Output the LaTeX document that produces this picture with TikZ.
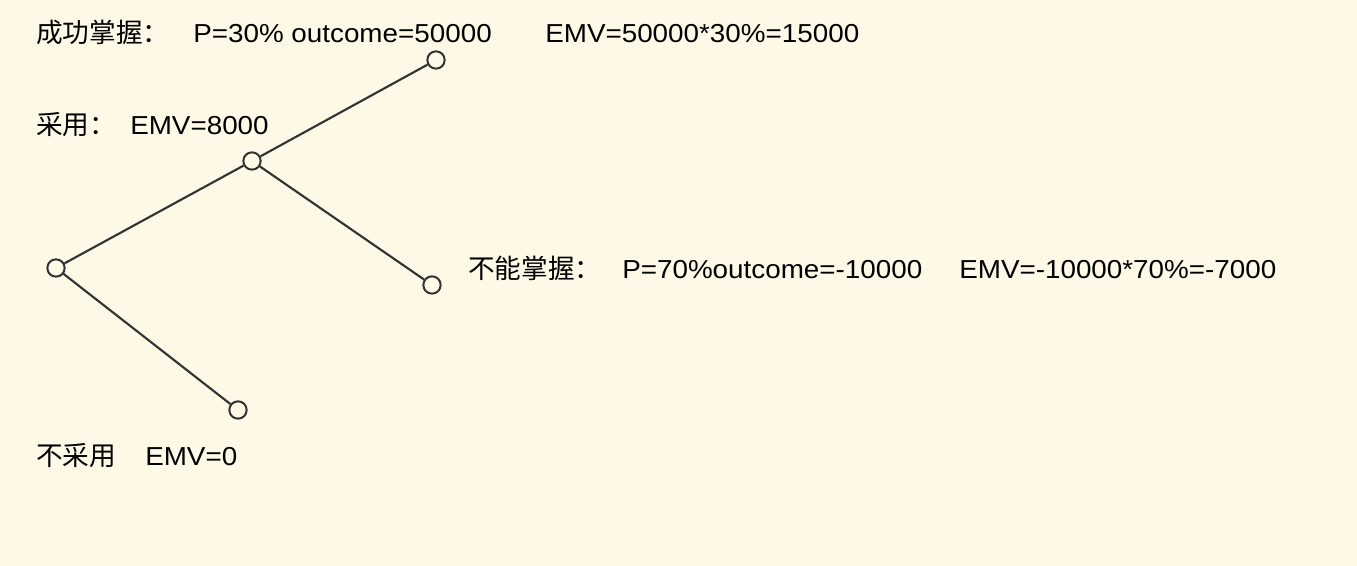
\documentclass[tikz,border=0pt]{standalone}
\usepackage{fontspec}
\setmainfont{Liberation Sans}
\newfontfamily\cjk{Noto Sans CJK SC}
\usepackage{graphicx}
\definecolor{bgc}{HTML}{FEF9E7}
\definecolor{linec}{HTML}{333333}
\newcommand{\Lt}[1]{\scalebox{1.07}[1]{#1}}
\begin{document}
\begin{tikzpicture}[x=0.75pt,y=-0.75pt,
  dnode/.style={circle,draw=linec,line width=1.5pt,fill=bgc,minimum size=13pt,inner sep=0pt},
  branch/.style={draw=linec,line width=1.6pt},
  lbl/.style={anchor=base west,inner sep=0pt,font=\fontsize{19.5pt}{22pt}\selectfont},
  clbl/.style={anchor=base west,inner sep=0pt,font=\fontsize{20pt}{22pt}\cjk}]
\fill[bgc] (0,0) rectangle (1357,566);
\useasboundingbox (0,0) rectangle (1357,566);
% tree nodes
\node[dnode] (root) at (56,268) {};
\node[dnode] (mid) at (252,161) {};
\node[dnode] (top) at (436,60) {};
\node[dnode] (right) at (432,285) {};
\node[dnode] (bot) at (238,410) {};
\draw[branch] (root) -- (mid);
\draw[branch] (mid) -- (top);
\draw[branch] (mid) -- (right);
\draw[branch] (root) -- (bot);
% labels
\node[clbl] (c1) at (36,43) {成功掌握：};
\node[lbl] (t1) at (193,43) {\Lt{P=30\% outcome=50000}};
\node[lbl] (t2) at (545,43) {\Lt{EMV=50000*30\%=15000}};
\node[clbl] (c2) at (36,135) {采用：};
\node[lbl] (t3) at (130,135) {\Lt{EMV=8000}};
\node[clbl] (c3) at (468,279) {不能掌握：};
\node[lbl] (t4) at (622,279) {\Lt{P=70\%outcome=-10000}};
\node[lbl] (t5) at (959,279) {\Lt{EMV=-10000*70\%=-7000}};
\node[clbl] (c4) at (36,465) {不采用};
\node[lbl] (t6) at (145,465) {\Lt{EMV=0}};
\end{tikzpicture}
\end{document}
